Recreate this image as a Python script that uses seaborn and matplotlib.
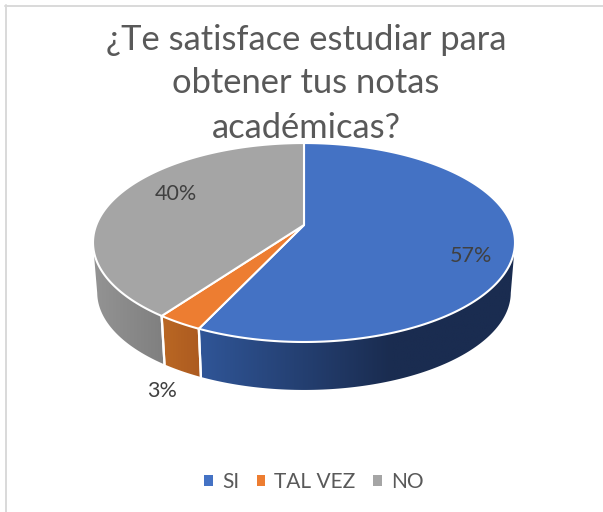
import numpy as np
import matplotlib
matplotlib.use("Agg")
import matplotlib.pyplot as plt
from matplotlib.colors import to_rgb
from matplotlib.patches import Patch, Polygon
import seaborn as sns

categories = ["SI", "TAL VEZ", "NO"]
values = [57, 3, 40]
colors = ["#4472C4", "#ED7D31", "#A5A5A5"]
wall_left = ["#305698", "#BA6824", "#939393"]
wall_right = ["#1A2C50", "#AC5A20", "#7F7F7F"]
wall_span = [(197, 390), (161, 200), (95, 165)]
title_lines = ["¿Te satisface estudiar para", "obtener tus notas", "académicas?"]

sns.set_theme(style="white")
plt.rcParams["font.family"] = ["Lato", "DejaVu Sans"]

# perspective of the tilted disc, in pixels
CX, CY = 304, 225
PERSP = 0.176
KX, KY = 207.7, 96.4
DEPTH = 50.3
SHRINK = 0.98
# the wall only shows between the left and right ends of the rim
FRONT = (-169.5, -10.5)


def project(theta, bottom=False):
    t = np.radians(theta)
    u, v = np.cos(t), np.sin(t)
    d = 1 + PERSP * v
    x, y = KX * u / d, -KY * v / d
    if bottom:
        return CX + SHRINK * x, CY + DEPTH + SHRINK * y
    return CX + x, CY + y


fig, ax = plt.subplots(figsize=(6.03, 5.12), dpi=100)
fig.subplots_adjust(0, 0, 1, 1)

# pie works out the angles, the wedges are then redrawn in perspective
wedges, _ = ax.pie(values, startangle=90, counterclock=False)
angles = [(w.theta1, w.theta2) for w in wedges]
for w in wedges:
    w.remove()

# side wall, a horizontal gradient clipped to each slice
for (a, b), lo, hi, (x0, x1) in zip(angles, wall_left, wall_right, wall_span):
    lo, hi = np.array(to_rgb(lo)), np.array(to_rgb(hi))
    th = np.linspace(max(a, FRONT[0]), min(b, FRONT[1]), 300)
    xa, ya = project(th)
    xb, yb = project(th[::-1], True)
    xs, ys = np.r_[xa, xb], np.r_[ya, yb]
    grid = np.linspace(xs.min(), xs.max(), 256)
    f = np.clip((grid - x0) / (x1 - x0), 0, 1)[None, :, None]
    im = ax.imshow(lo + (hi - lo) * f, extent=(xs.min(), xs.max(), ys.max(), ys.min()),
                   aspect="auto", zorder=1, interpolation="bilinear")
    im.set_clip_path(Polygon(np.c_[xs, ys], transform=ax.transData))

ax.set_aspect("auto")
ax.set_xlim(0, 603)
ax.set_ylim(512, 0)
ax.axis("off")

# dividers on the wall
for a, b in angles:
    for t in (a, b):
        if FRONT[0] < t < FRONT[1]:
            xa, ya = project(t)
            xd, yd = project(t, True)
            ax.plot([xa, xd], [ya, yd], color="white", lw=1.6, zorder=2)

# top face
for (a, b), c in zip(angles, colors):
    th = np.linspace(a, b, 200)
    xs, ys = project(th)
    ax.fill(np.r_[CX, xs], np.r_[CY, ys], facecolor=c, edgecolor="white", lw=1.5,
            joinstyle="round", zorder=3)

for line, y in zip(title_lines, [50, 93, 138]):
    ax.text(306, y, line, ha="center", va="baseline", fontsize=24.8, color="#595959", zorder=5)

label_pos = [(471, 256), (162, 391), (176, 194)]
for v, (x, y) in zip(values, label_pos):
    ax.text(x, y, f"{v}%", ha="center", va="center", fontsize=15.5, color="#404040", zorder=4)

handles = [Patch(facecolor=c, edgecolor="none") for c in colors]
ax.legend(handles, categories, loc="center", bbox_to_anchor=(314 / 603, 1 - 482 / 512),
          ncol=3, frameon=False, fontsize=15, labelcolor="#595959",
          handlelength=0.4, handleheight=0.4, handletextpad=0.45, columnspacing=0.85)

# chart frame
ax.plot([5, 603], [5.5, 5.5], color="#D9D9D9", lw=1.4, zorder=0)
ax.plot([6, 6], [5, 512], color="#D9D9D9", lw=1.4, zorder=0)

fig.savefig("out.png", dpi=100)
